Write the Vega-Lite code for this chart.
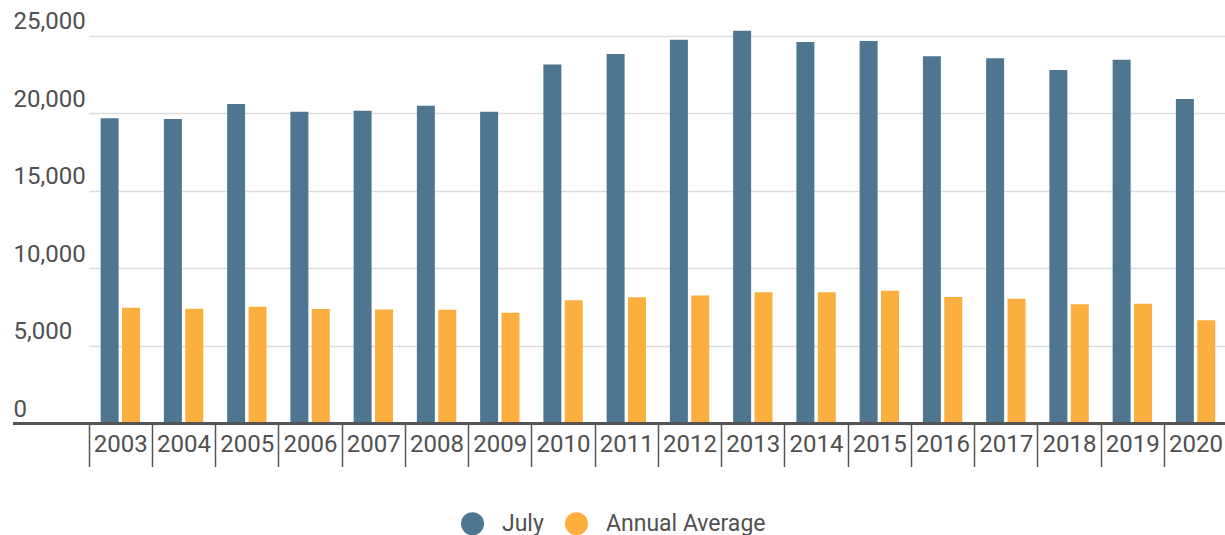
{
  "$schema": "https://vega.github.io/schema/vega-lite/v6.json",
  "width": 1212,
  "height": 403.5,
  "autosize": {"type": "none"},
  "padding": {"left": 13, "top": 20, "right": 0, "bottom": 111.5},
  "background": "white",
  "config": {
    "view": {"stroke": null},
    "font": "Roboto"
  },
  "data": {
    "values": [
      {"year": "2003", "series": "July", "value": 19670},
      {"year": "2003", "series": "Annual Average", "value": 7460},
      {"year": "2004", "series": "July", "value": 19620},
      {"year": "2004", "series": "Annual Average", "value": 7400},
      {"year": "2005", "series": "July", "value": 20590},
      {"year": "2005", "series": "Annual Average", "value": 7530},
      {"year": "2006", "series": "July", "value": 20090},
      {"year": "2006", "series": "Annual Average", "value": 7380},
      {"year": "2007", "series": "July", "value": 20150},
      {"year": "2007", "series": "Annual Average", "value": 7340},
      {"year": "2008", "series": "July", "value": 20480},
      {"year": "2008", "series": "Annual Average", "value": 7330},
      {"year": "2009", "series": "July", "value": 20090},
      {"year": "2009", "series": "Annual Average", "value": 7140},
      {"year": "2010", "series": "July", "value": 23140},
      {"year": "2010", "series": "Annual Average", "value": 7940},
      {"year": "2011", "series": "July", "value": 23810},
      {"year": "2011", "series": "Annual Average", "value": 8130},
      {"year": "2012", "series": "July", "value": 24730},
      {"year": "2012", "series": "Annual Average", "value": 8240},
      {"year": "2013", "series": "July", "value": 25310},
      {"year": "2013", "series": "Annual Average", "value": 8450},
      {"year": "2014", "series": "July", "value": 24580},
      {"year": "2014", "series": "Annual Average", "value": 8450},
      {"year": "2015", "series": "July", "value": 24650},
      {"year": "2015", "series": "Annual Average", "value": 8560},
      {"year": "2016", "series": "July", "value": 23660},
      {"year": "2016", "series": "Annual Average", "value": 8150},
      {"year": "2017", "series": "July", "value": 23530},
      {"year": "2017", "series": "Annual Average", "value": 8040},
      {"year": "2018", "series": "July", "value": 22780},
      {"year": "2018", "series": "Annual Average", "value": 7680},
      {"year": "2019", "series": "July", "value": 23440},
      {"year": "2019", "series": "Annual Average", "value": 7720},
      {"year": "2020", "series": "July", "value": 20910},
      {"year": "2020", "series": "Annual Average", "value": 6650}
    ]
  },
  "layer": [
    {
      "mark": {"type": "bar"},
      "encoding": {
        "x": {
          "field": "year",
          "type": "nominal",
          "scale": {"range": [75.7, 1214.2], "paddingInner": 0, "paddingOuter": 0},
          "axis": {
            "title": null,
            "domain": false,
            "grid": false,
            "tickBand": "extent",
            "tickSize": 43,
            "tickColor": "#555555",
            "tickWidth": 1.5,
            "labelAngle": 0,
            "labelFontSize": 24,
            "labelColor": "#505050",
            "labelBaseline": "middle",
            "labelPadding": -22.5
          }
        },
        "xOffset": {
          "field": "series",
          "type": "nominal",
          "sort": ["July", "Annual Average"],
          "scale": {"paddingInner": 0.16, "paddingOuter": 0.558}
        },
        "y": {
          "field": "value",
          "type": "quantitative",
          "scale": {"domain": [0, 26000]},
          "axis": {
            "title": null,
            "values": [0, 5000, 10000, 15000, 20000, 25000],
            "format": ",.0f",
            "domain": false,
            "ticks": false,
            "labelAlign": "left",
            "labelPadding": 0,
            "labelBaseline": "alphabetic",
            "labelOffset": -7,
            "labelFontSize": 24,
            "labelColor": "#505050",
            "gridColor": "#dddddd",
            "gridWidth": 1.5
          }
        },
        "color": {
          "field": "series",
          "type": "nominal",
          "sort": ["July", "Annual Average"],
          "scale": {"domain": ["July", "Annual Average"], "range": ["#4e7690", "#fcae3e"]},
          "legend": {
            "orient": "none",
            "legendX": 447,
            "legendY": 491,
            "direction": "horizontal",
            "title": null,
            "symbolType": "circle",
            "symbolSize": 531,
            "symbolOpacity": 1,
            "labelFontSize": 23,
            "labelColor": "#505050",
            "labelLimit": 400,
            "labelOffset": 17,
            "columnPadding": 20,
            "padding": 0
          }
        }
      }
    },
    {
      "mark": {"type": "rule", "color": "#555555", "strokeWidth": 2.5},
      "encoding": {"y": {"datum": 0}}
    }
  ]
}
